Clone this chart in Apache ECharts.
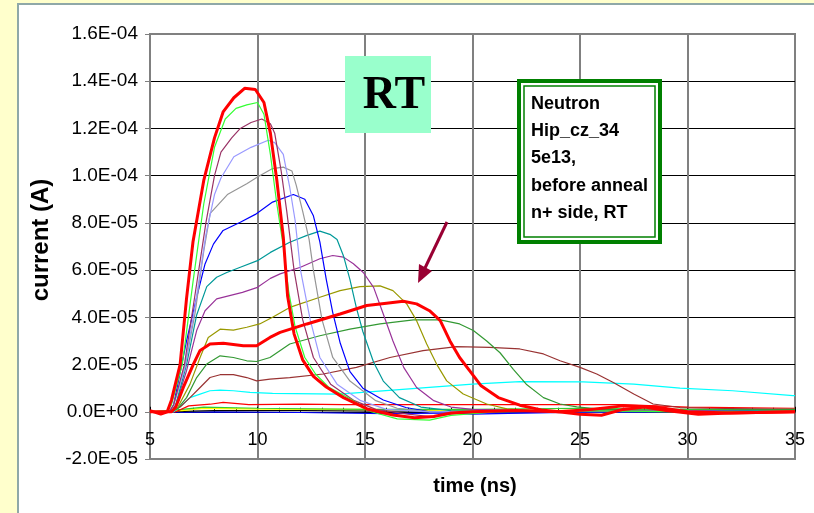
<!DOCTYPE html>
<html>
<head>
<meta charset="utf-8">
<script src="https://cdn.jsdelivr.net/npm/echarts@6/dist/echarts.min.js"></script>
<style>
  html, body { margin: 0; padding: 0; background: #FFFFCC; }
  #panel { position: absolute; left: 17px; top: 3px; width: 797px; height: 510px;
           background: #ffffff; border-left: 2px solid #8FA8A8; border-top: 2px solid #8FA8A8; box-sizing: border-box; }
  #chart { position: absolute; left: 0; top: 0; width: 814px; height: 513px; }
</style>
</head>
<body>
<div id="panel"></div>
<div id="chart"></div>
<script>
// Transient current traces, time in ns, current in units of 1e-5 A
const redPeak = [[5,0.05],[5.5,-0.1],[5.8,0],[6.0,0.5],[6.4,2.0],[6.7,4.8],[7.0,7.2],[7.5,9.8],[8.0,11.6],[8.4,12.7],[8.9,13.3],[9.4,13.7],[9.9,13.65],[10.3,13.1],[10.6,11.8],[10.9,9.8],[11.2,7.4],[11.4,4.9],[11.7,3.3],[12.1,2.2],[12.6,1.5],[13.2,1.05],[14.0,0.6],[15.1,0.12],[16.3,-0.14],[17.3,-0.25],[18.2,-0.2],[19,-0.05],[20,0.0],[22,0.05],[24,0.0],[25.5,0.1],[27,0.25],[28.5,0.2],[30,0.0],[32,-0.05],[35,0.0]];
const greenBright = [[5,0],[5.8,0],[6.0,0.3],[6.5,2.0],[7.0,5.5],[7.5,8.8],[8.0,11.2],[8.5,12.4],[9.0,12.85],[9.5,13.0],[10.0,13.1],[10.3,12.6],[10.6,10.9],[10.9,8.8],[11.2,7.0],[11.45,5.1],[11.75,3.6],[12.2,2.3],[12.7,1.6],[13.3,1.05],[14.4,0.5],[15.3,0.0],[16.5,-0.3],[18,-0.35],[19,-0.15],[21,0.0],[25,0.05],[30,0.0],[35,0.05]];
const maroon = [[5,0],[5.9,0],[6.1,0.3],[6.6,2.0],[7.1,5.0],[7.6,8.0],[8.0,10.0],[8.3,11.0],[8.8,11.6],[9.2,12.0],[9.7,12.25],[10.2,12.4],[10.6,12.2],[10.8,11.8],[11.1,10.2],[11.36,8.5],[11.7,6.0],[12.1,3.9],[12.6,2.3],[13.4,1.17],[14.5,0.47],[15.5,0.1],[17,-0.1],[18,-0.2],[20,0.0],[25,0.05],[35,0.0]];
const lavender = [[5,0],[5.9,0],[6.1,0.3],[6.6,1.8],[7.1,4.5],[7.6,7.5],[8.0,9.2],[8.3,9.9],[8.9,10.8],[9.7,11.2],[10.5,11.5],[10.8,11.4],[11.2,10.9],[11.5,9.5],[11.75,8.1],[12.0,6.0],[12.45,3.9],[12.9,2.3],[13.7,1.17],[14.8,0.47],[16,0.1],[18,0.0],[25,0.05],[35,0.0]];
const gray = [[5,0],[5.9,0],[6.1,0.3],[6.6,1.8],[7.1,4.2],[7.5,6.8],[7.8,8.4],[8.6,9.2],[9.5,9.66],[10.0,9.94],[10.7,10.3],[11.2,10.36],[11.6,10.2],[11.8,9.6],[12.1,8.5],[12.4,7.3],[12.6,6.0],[13.0,3.9],[13.5,2.3],[14.3,1.3],[15.5,0.47],[16.5,0.15],[18,0.0],[25,0.05],[35,0.0]];
const blue = [[5,0],[5.9,0],[6.1,0.3],[6.7,3.0],[7.17,4.85],[7.56,6.26],[7.95,7.1],[8.4,7.68],[9.2,8.03],[9.9,8.36],[10.7,8.88],[11.67,9.2],[12.2,9.0],[12.6,8.3],[12.9,7.2],[13.2,5.6],[13.5,4.2],[13.85,2.9],[14.3,1.7],[14.9,1.0],[15.85,0.5],[16.9,0.18],[18,0.0],[20,-0.1],[25,0.0],[35,0.05]];
const teal = [[5,0],[6.0,0],[6.2,0.3],[6.7,2.0],[7.17,4.1],[7.64,5.3],[8.1,5.7],[8.57,5.9],[9.2,6.12],[10.0,6.4],[10.6,6.75],[11.5,7.18],[12.3,7.47],[12.9,7.65],[13.4,7.5],[13.7,7.3],[14.0,6.6],[14.3,5.6],[14.6,4.4],[14.9,3.4],[15.4,2.1],[15.85,1.3],[16.6,0.6],[17.6,0.2],[19,0.05],[25,0.0],[35,0.05]];
const purple = [[5,0],[6.0,0],[6.2,0.3],[6.7,1.74],[7.17,3.44],[7.56,4.28],[8.1,4.78],[8.7,4.92],[9.3,5.06],[10.0,5.27],[10.6,5.65],[11.05,5.84],[12.0,6.12],[12.9,6.48],[13.5,6.62],[14.0,6.55],[14.46,6.27],[14.92,5.9],[15.4,5.27],[15.85,4.14],[16.3,3.0],[16.8,1.88],[17.4,1.03],[18.2,0.47],[19.0,0.2],[20,0.1],[25,0.0],[35,0.05]];
const olive = [[5,0],[6.0,0],[6.3,0.2],[6.86,1.17],[7.33,2.3],[7.71,3.15],[8.26,3.5],[8.88,3.46],[9.5,3.58],[10.1,3.72],[10.7,4.0],[11.5,4.42],[12.9,4.85],[13.84,5.13],[14.77,5.3],[15.7,5.33],[16.3,5.13],[16.94,4.57],[17.4,3.86],[17.87,2.87],[18.33,2.02],[18.8,1.31],[19.57,0.75],[20.66,0.33],[21.6,0.12],[23,0.05],[30,0.0],[35,0.05]];
const redLate = [[5,0],[6.0,0],[6.2,0.2],[6.55,1.03],[7.02,2.02],[7.33,2.6],[7.79,2.87],[8.41,2.9],[9.34,2.8],[9.96,2.8],[10.58,3.15],[11.05,3.36],[12.3,3.72],[13.84,4.14],[15.08,4.5],[16.0,4.6],[16.78,4.68],[17.4,4.57],[18.0,4.28],[18.5,3.86],[18.95,3.0],[19.4,2.3],[19.9,1.7],[20.4,1.1],[21.2,0.6],[22.2,0.28],[23.2,0.08],[24,0.0],[25,-0.1],[26,-0.15],[27,0.1],[28,0.2],[29,0.05],[30.5,-0.1],[32,-0.05],[35,0.0]];
const greenDark = [[5,0],[6.0,0],[6.3,0.15],[6.7,0.6],[7.17,1.45],[7.64,2.02],[8.26,2.37],[8.88,2.3],[9.5,2.16],[9.96,2.13],[10.58,2.3],[11.5,2.87],[12.9,3.22],[14.3,3.5],[15.7,3.72],[17.25,3.89],[18.5,3.89],[19.4,3.72],[20.04,3.44],[20.66,3.0],[21.28,2.5],[21.9,1.8],[22.5,1.17],[23.3,0.6],[24.07,0.33],[24.85,0.21],[26,0.1],[30,0.05],[35,0.1]];
const brown = [[5,0],[6.0,0],[6.4,0.2],[6.86,0.6],[7.33,1.03],[7.79,1.45],[8.26,1.57],[8.88,1.57],[9.5,1.45],[9.96,1.31],[10.58,1.38],[11.5,1.45],[13.06,1.6],[14.6,1.88],[16.16,2.3],[17.7,2.59],[19.26,2.76],[20.8,2.73],[22.2,2.66],[23.3,2.45],[24.07,2.16],[25.0,1.88],[25.78,1.6],[26.55,1.24],[27.5,0.75],[28.4,0.33],[29.65,0.18],[31,0.15],[35,0.1]];
const cyan = [[5,0],[6.1,0],[6.5,0.3],[6.86,0.6],[7.33,0.75],[7.79,0.89],[8.26,0.92],[8.88,0.89],[9.65,0.82],[10.7,0.78],[13.8,0.75],[16.9,0.96],[20.0,1.17],[22.2,1.28],[25.15,1.27],[27.5,1.17],[29.65,1.0],[32.1,0.89],[34.9,0.68],[35,0.68]];
const redLow = [[5,0],[6.2,0],[6.8,0.25],[7.8,0.32],[8.4,0.4],[9.6,0.3],[12,0.32],[14,0.3],[16,0.3],[18,0.3],[20,0.3],[22,0.3],[25,0.3],[27,0.3],[30,0.2],[35,0.15]];
const yellowLow = [[5,0],[6.5,0.05],[7.5,0.15],[10,0.12],[15,0.1],[20,0.05],[25,0.05],[30,0.05],[35,0.05]];
const limeLow = [[5,0],[6.5,0.1],[7.5,0.2],[10,0.15],[15,0.1],[20,0.1],[25,0.15],[30,0.1],[35,0.1]];
const blackLow = [[5,0],[6.5,0.02],[8,0.05],[12,0.05],[16,0.03],[20,0.05],[26,0.05],[30,0.08],[35,0.05]];
const blueLow = [[5,0],[6.5,-0.02],[8,0.0],[12,-0.03],[16,-0.08],[20,-0.05],[25,-0.03],[30,0.0],[35,-0.02]];

const xTicks = { min: 5, max: 35, step: 5 };
const yTicks = { min: -2, max: 16, step: 2 };   // in 1e-5 A

const traces = [
  { data: blueLow,     color: '#0000FF', width: 1.2 },
  { data: blackLow,    color: '#000000', width: 1.2 },
  { data: yellowLow,   color: '#FFFF00', width: 1.5 },
  { data: limeLow,     color: '#33CC33', width: 1.2 },
  { data: redLow,      color: '#FF0000', width: 1.2 },
  { data: cyan,        color: '#00FFFF', width: 1.2 },
  { data: brown,       color: '#993333', width: 1.2 },
  { data: greenDark,   color: '#339933', width: 1.2 },
  { data: olive,       color: '#999900', width: 1.2 },
  { data: purple,      color: '#993399', width: 1.2 },
  { data: teal,        color: '#009999', width: 1.2 },
  { data: blue,        color: '#0000FF', width: 1.2 },
  { data: gray,        color: '#969696', width: 1.2 },
  { data: lavender,    color: '#9999FF', width: 1.2 },
  { data: maroon,      color: '#993366', width: 1.2 },
  { data: greenBright, color: '#33FF33', width: 1.2 },
  { data: redLate,     color: '#FF0000', width: 3 },
  { data: redPeak,     color: '#FF0000', width: 3 }
];

// scientific label such as 1.6E-04 for a value given in 1e-5 A
function sci(v) {
  const a = v * 1e-5;
  if (Math.abs(v) < 1e-9) return '0.0E+00';
  const e = Math.floor(Math.log10(Math.abs(a)) + 1e-9);
  const m = a / Math.pow(10, e);
  return m.toFixed(1) + 'E' + (e < 0 ? '-' : '+') + String(Math.abs(e)).padStart(2, '0');
}

const font = '"Liberation Sans", Arial, sans-serif';
const gridTop = 34, gridBottom = 54, chartH = 513;
// shift the time axis up so it sits on the zero-current line
const plotH = chartH - gridTop - gridBottom;
const zeroShift = plotH * (0 - yTicks.min) / (yTicks.max - yTicks.min);

const chart = echarts.init(document.getElementById('chart'), null, { renderer: 'canvas' });

chart.setOption({
  animation: false,
  backgroundColor: 'transparent',
  grid: { left: 150, top: gridTop, right: 19, bottom: gridBottom, show: true, borderColor: '#808080', borderWidth: 2, backgroundColor: 'transparent' },
  xAxis: {
    type: 'value', min: xTicks.min, max: xTicks.max, interval: xTicks.step,
    position: 'bottom', offset: -zeroShift,
    axisLine: { show: true, onZero: false, lineStyle: { color: '#000', width: 1 } },
    axisTick: { show: true, inside: true, length: 5, lineStyle: { color: '#000' } },
    minorTick: { show: true, splitNumber: 5, length: 4, lineStyle: { color: '#000' } },
    axisLabel: { color: '#000', fontSize: 18, fontFamily: font, margin: 19 },
    splitLine: { show: true, showMinLine: false, showMaxLine: false, lineStyle: { color: '#808080', width: 2 } }
  },
  yAxis: {
    type: 'value', min: yTicks.min, max: yTicks.max, interval: yTicks.step,
    axisLine: { show: true, lineStyle: { color: '#808080', width: 2 } },
    axisTick: { show: true, inside: false, length: 5, lineStyle: { color: '#808080' } },
    axisLabel: { color: '#000', fontSize: 19, fontFamily: font, margin: 12, formatter: sci },
    splitLine: { show: true, showMinLine: false, showMaxLine: false, lineStyle: { color: '#000', width: 1 } }
  },
  series: traces.map(t => ({
    type: 'line', data: t.data, showSymbol: false, symbol: 'none', smooth: false,
    lineStyle: { color: t.color, width: t.width }, itemStyle: { color: t.color },
    emphasis: { disabled: true }, silent: true
  })),
  graphic: [
    { type: 'text', x: 475, y: 486, style: { text: 'time (ns)', fill: '#000', font: 'bold 20px ' + font, align: 'center', verticalAlign: 'middle' } },
    { type: 'text', x: 41, y: 240, rotation: Math.PI / 2,
      style: { text: 'current (A)', fill: '#000', font: 'bold 24px ' + font, align: 'center', verticalAlign: 'middle' } },
    { type: 'rect', shape: { x: 345, y: 56, width: 86, height: 77 }, style: { fill: '#99FFCC' }, z: 10 },
    { type: 'text', x: 394, y: 96, z: 11,
      style: { text: 'RT', fill: '#000', font: 'bold 46px "Liberation Serif", "Times New Roman", serif', align: 'center', verticalAlign: 'middle' } },
    { type: 'rect', shape: { x: 519, y: 81, width: 141, height: 161 }, style: { fill: '#fff', stroke: '#008000', lineWidth: 4 }, z: 10 },
    { type: 'rect', shape: { x: 524, y: 86, width: 131, height: 151 }, style: { fill: '#fff', stroke: '#008000', lineWidth: 1.5 }, z: 10 },
    { type: 'text', x: 531, y: 90, z: 11,
      style: { text: 'Neutron\nHip_cz_34\n5e13,\nbefore anneal\nn+ side, RT', fill: '#000', lineHeight: 27.3,
               font: 'bold 18px ' + font } },
    { type: 'line', shape: { x1: 447, y1: 222, x2: 425, y2: 268 }, style: { stroke: '#990033', lineWidth: 3 }, z: 10 },
    { type: 'polygon', shape: { points: [[418, 283], [432, 271], [419, 264]] }, style: { fill: '#990033' }, z: 10 }
  ]
});
</script>
</body>
</html>
